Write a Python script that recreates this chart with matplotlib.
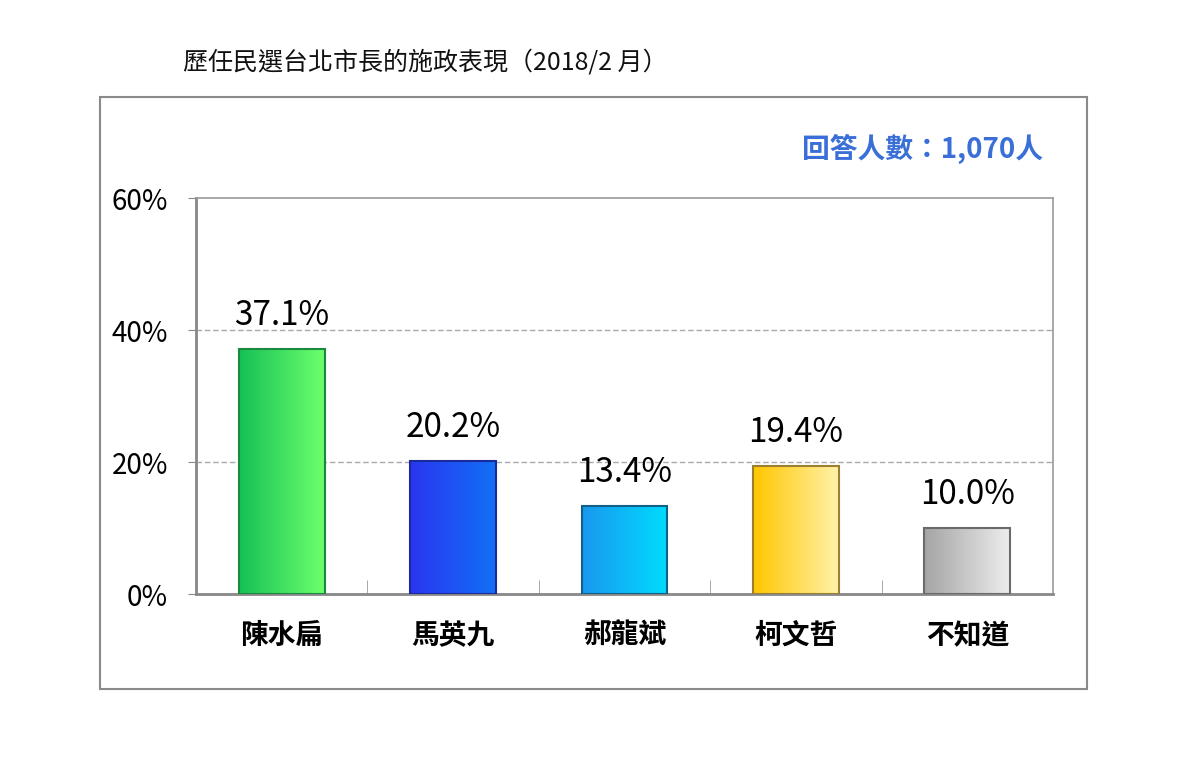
import matplotlib.pyplot as plt
import matplotlib.patches as patches
from matplotlib.colors import LinearSegmentedColormap
import numpy as np

plt.rcParams['font.family'] = ['Noto Sans CJK TC', 'DejaVu Sans']

categories = ['陳水扁', '馬英九', '郝龍斌', '柯文哲', '不知道']
values = [37.1, 20.2, 13.4, 19.4, 10.0]
labels = ['37.1%', '20.2%', '13.4%', '19.4%', '10.0%']
yticks = [0, 20, 40, 60]
ytick_labels = ['0%', '20%', '40%', '60%']
# left (dark) and right (light) colours of each bar gradient
grad_colors = [('#16c155', '#6cff6c'),
               ('#2a36f0', '#1270f6'),
               ('#1a98ee', '#00dcff'),
               ('#ffc600', '#fff2a8'),
               ('#a5a5a5', '#ececec')]
edge_colors = ['#1a8a40', '#1a2a9a', '#10608a', '#9a8030', '#6a6a6a']

dpi = 100
fig = plt.figure(dpi=dpi, figsize=(1193 / dpi, 759 / dpi))

# outer frame
fig.patches.append(patches.Rectangle((100 / 1193, 1 - 689 / 759), 987 / 1193, 592 / 759,
                                     transform=fig.transFigure, fill=False,
                                     edgecolor='#8a8a8a', linewidth=1.5))

fig.text(183 / 1193, 1 - 62 / 759, '歷任民選台北市長的施政表現（2018/2 月）',
         fontsize=18, va='center', ha='left', color='#111111')
fig.text(1043 / 1193, 1 - 149 / 759, '回答人數：1,070人', fontsize=20,
         fontweight='bold', color='#3a6fd8', ha='right', va='center')

ax = fig.add_axes([196 / 1193, 1 - 594 / 759, 857 / 1193, 396 / 759])
ax.set_xlim(-0.5, len(categories) - 0.5)
ax.set_ylim(0, 60)

width = 0.5
for i, v in enumerate(values):
    cmap = LinearSegmentedColormap.from_list('g%d' % i, grad_colors[i])
    grad = np.linspace(0, 1, 64).reshape(1, -1)
    x0, x1 = i - width / 2, i + width / 2
    ax.imshow(grad, cmap=cmap, extent=(x0, x1, 0, v), aspect='auto', zorder=3)
    ax.add_patch(patches.Rectangle((x0, 0), width, v, fill=False,
                                   edgecolor=edge_colors[i], linewidth=1.5, zorder=4))
    ax.text(i, v + 2.4, labels[i], ha='center', va='bottom', fontsize=24,
            fontweight='medium', color='#000000', zorder=5)

ax.set_xlim(-0.5, len(categories) - 0.5)
ax.set_ylim(0, 60)

for y in yticks[1:-1]:
    ax.axhline(y, color='#aaaaaa', linestyle=(0, (4, 2)), linewidth=1, zorder=1)

ax.set_yticks(yticks)
ax.set_yticklabels(ytick_labels, fontsize=20)
ax.set_xticks(range(len(categories)))
ax.set_xticklabels(categories, fontsize=20, fontweight='bold')
ax.tick_params(axis='x', length=0, pad=20)
ax.tick_params(axis='y', length=6, color='#888888', pad=14, direction='out')
ax.set_xticks(np.arange(0.5, len(categories) - 0.5, 1), minor=True)
ax.tick_params(axis='x', which='minor', length=10, direction='in', color='#999999')

for side in ['top', 'right']:
    ax.spines[side].set_color('#999999')
    ax.spines[side].set_linewidth(1.2)
for side in ['left', 'bottom']:
    ax.spines[side].set_color('#888888')
    ax.spines[side].set_linewidth(2)

fig.savefig('out.png', dpi=dpi)
